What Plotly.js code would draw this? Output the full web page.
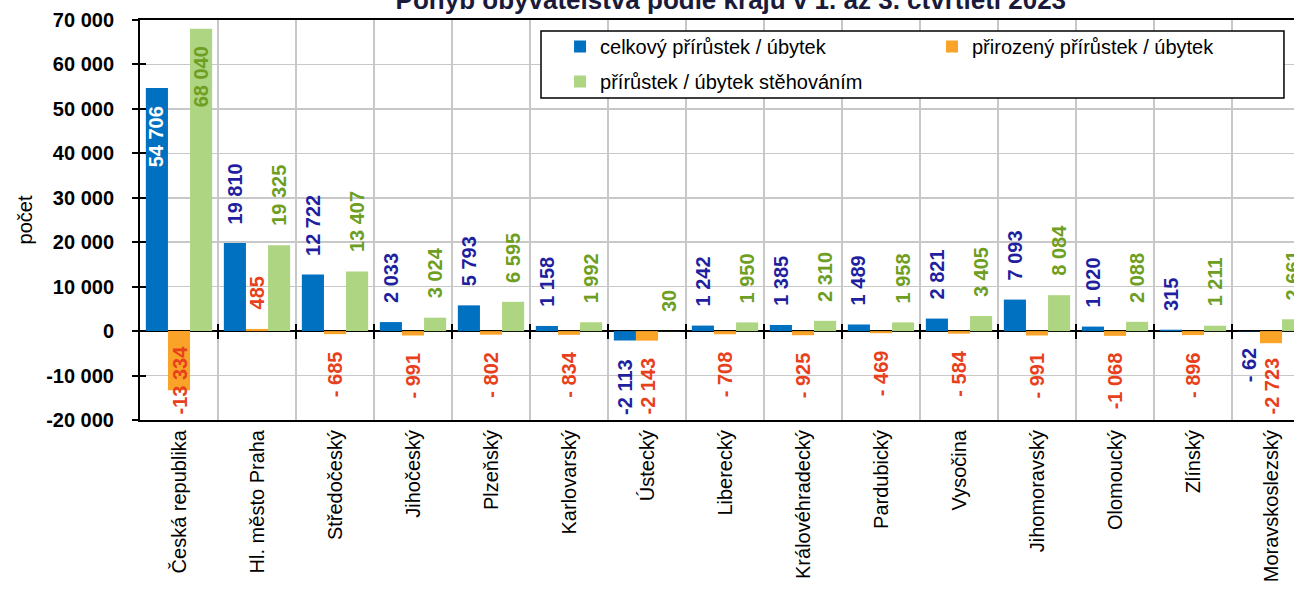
<!DOCTYPE html>
<html>
<head>
<meta charset="utf-8">
<script src="https://cdn.plot.ly/plotly-3.0.1.min.js"></script>
<style>html,body{margin:0;padding:0;background:#fff}#chart{width:1294px;height:593px}</style>
</head>
<body>
<div id="chart"></div>
<script>
const regions = ['Česká republika','Hl. město Praha','Středočeský','Jihočeský','Plzeňský','Karlovarský','Ústecký','Liberecký','Královéhradecký','Pardubický','Vysočina','Jihomoravský','Olomoucký','Zlínský','Moravskoslezský'];
const celkovy = [54706,19810,12722,2033,5793,1158,-2113,1242,1385,1489,2821,7093,1020,315,-62];
const prirozeny = [-13334,485,-685,-991,-802,-834,-2143,-708,-925,-469,-584,-991,-1068,-896,-2723];
const stehovanim = [68040,19325,13407,3024,6595,1992,30,1950,2310,1958,3405,8084,2088,1211,2661];
const seriesNames = ['celkový přírůstek / úbytek','přirozený přírůstek / úbytek','přírůstek / úbytek stěhováním'];
const yTickVals = [-20000,-10000,0,10000,20000,30000,40000,50000,60000,70000];
const titleText = 'Pohyb obyvatelstva podle krajů v 1. až 3. čtvrtletí 2023';
const yTitle = 'počet';

const FONT = 'Liberation Sans, Arial, sans-serif';
const barColors = ['#0070C0','#F9A428','#AED581'];
const labelColors = ['#1F1FA0','#E8401C','#6E9E22'];
const legendIds = ['legend','legend2','legend'];
const Y_MIN = -20000, Y_MAX = 70000;
const CAT_PX = 78, PLOT_W = 1154;
const BARGAP = 0.15;
const xRange = [-0.5, -0.5 + PLOT_W / CAT_PX];

function grp(n){ return String(n).replace(/\B(?=(\d{3})+(?!\d))/g,' '); }
function fmt(v){
  const a = Math.abs(v);
  if (v < 0) return a < 1000 ? '- ' + grp(a) : '-' + grp(a);
  return grp(a);
}

const allSeries = [celkovy, prirozeny, stehovanim];
const traces = allSeries.map((vals,k)=>({
  type:'bar', x:regions, y:vals, name:seriesNames[k],
  legend:legendIds[k], legendgroup:'g'+k,
  marker:{color:barColors[k], line:{width:0}},
  hoverinfo:'x+y'
}));
// helper traces for the overlay axes (tick marks only)
traces.push({type:'scatter', x:[], y:[], xaxis:'x2', yaxis:'y', showlegend:false, hoverinfo:'skip'});
traces.push({type:'scatter', x:[], y:[], xaxis:'x3', yaxis:'y', showlegend:false, hoverinfo:'skip'});
traces.push({type:'scatter', x:[], y:[], xaxis:'x', yaxis:'y2', showlegend:false, hoverinfo:'skip'});

const barPx = CAT_PX * (1 - BARGAP) / 3;
const annotations = [];
allSeries.forEach((vals,k)=>{
  vals.forEach((v,i)=>{
    const a = {
      x: regions[i], y: v, xref:'x', yref:'y',
      text: fmt(v), showarrow:false, textangle:-90,
      xshift: (k-1)*barPx, xanchor:'center',
      font:{family:FONT, size:20, color:labelColors[k], weight:700}
    };
    if (v > 40000) { a.yanchor='top'; a.yshift=-16; if(k===0) a.font.color='#FFFFFF'; }
    else if (v >= 0) { a.yanchor='bottom'; a.yshift=17; }
    else if (v > -2000) { a.yanchor='top'; a.yshift=-15; }
    else { a.y = Y_MIN; a.yanchor='bottom'; a.yshift=3; }
    annotations.push(a);
  });
});

const legendFont = {family:FONT, size:20, color:'#000'};
const layout = {
  width:1294, height:593,
  margin:{l:140, r:0, t:20, b:173},
  paper_bgcolor:'#fff', plot_bgcolor:'#fff',
  font:{family:FONT, size:20, color:'#000'},
  separators:', ',
  barmode:'group', bargap:BARGAP, bargroupgap:0,
  title:{text:titleText, font:{family:FONT, size:26, color:'#1a1a3a', weight:700},
         xref:'paper', x:0.512, xanchor:'center', yref:'container', y:1, yanchor:'middle'},
  showlegend:true,
  legend:{orientation:'v', x:0.364, xanchor:'left', y:0.9825, yanchor:'top',
          bgcolor:'rgba(0,0,0,0)', borderwidth:0, font:legendFont,
          itemwidth:30, tracegroupgap:6, traceorder:'grouped'},
  legend2:{orientation:'v', x:0.6863, xanchor:'left', y:0.9825, yanchor:'top',
          bgcolor:'rgba(0,0,0,0)', borderwidth:0, font:legendFont, itemwidth:30},
  shapes:[{type:'rect', xref:'paper', yref:'paper', x0:0.3475, x1:0.9913, y0:0.805, y1:0.9725,
           line:{color:'#000', width:1.5}, fillcolor:'#fff', layer:'above'}],
  xaxis:{type:'category', range:xRange, tickson:'boundaries', ticks:'',
         showgrid:true, gridcolor:'#c8c8c8', gridwidth:1.5,
         showline:true, linecolor:'#000', linewidth:2, mirror:true,
         tickangle:-90, tickfont:{family:FONT, size:20, color:'#000'}, fixedrange:true},
  xaxis2:{type:'linear', overlaying:'x', anchor:'free', position:(0-Y_MIN)/(Y_MAX-Y_MIN),
          range:xRange, tickmode:'array', tickvals:regions.map((_,i)=>i+0.5),
          ticks:'outside', ticklen:7, tickwidth:2, tickcolor:'#000',
          showticklabels:false, showgrid:false, zeroline:false, showline:false, fixedrange:true},
  xaxis3:{type:'linear', overlaying:'x', anchor:'free', position:(0-Y_MIN)/(Y_MAX-Y_MIN),
          range:xRange, tickmode:'array', tickvals:regions.map((_,i)=>i+0.5),
          ticks:'inside', ticklen:7, tickwidth:2, tickcolor:'#000',
          showticklabels:false, showgrid:false, zeroline:false, showline:false, fixedrange:true},
  yaxis:{range:[Y_MIN,Y_MAX], tickmode:'array', tickvals:yTickVals, ticktext:yTickVals.map(fmt),
         ticks:'outside', ticklen:6, tickwidth:2, tickcolor:'#000', ticklabelstandoff:14,
         showgrid:true, gridcolor:'#c8c8c8', gridwidth:1.5,
         zeroline:true, zerolinecolor:'#000', zerolinewidth:2,
         showline:true, linecolor:'#000', linewidth:2,
         title:{text:yTitle, font:{family:FONT, size:20, color:'#000'}, standoff:8},
         tickfont:{family:FONT, size:20, color:'#000', weight:700}, fixedrange:true},
  yaxis2:{range:[Y_MIN,Y_MAX], overlaying:'y', side:'left', anchor:'x',
          tickmode:'array', tickvals:yTickVals, ticks:'inside', ticklen:6, tickwidth:2, tickcolor:'#000',
          showticklabels:false, showgrid:false, zeroline:false, showline:false, fixedrange:true},
  annotations:annotations
};

Plotly.newPlot('chart', traces, layout, {displayModeBar:false, staticPlot:true});
</script>
</body>
</html>
